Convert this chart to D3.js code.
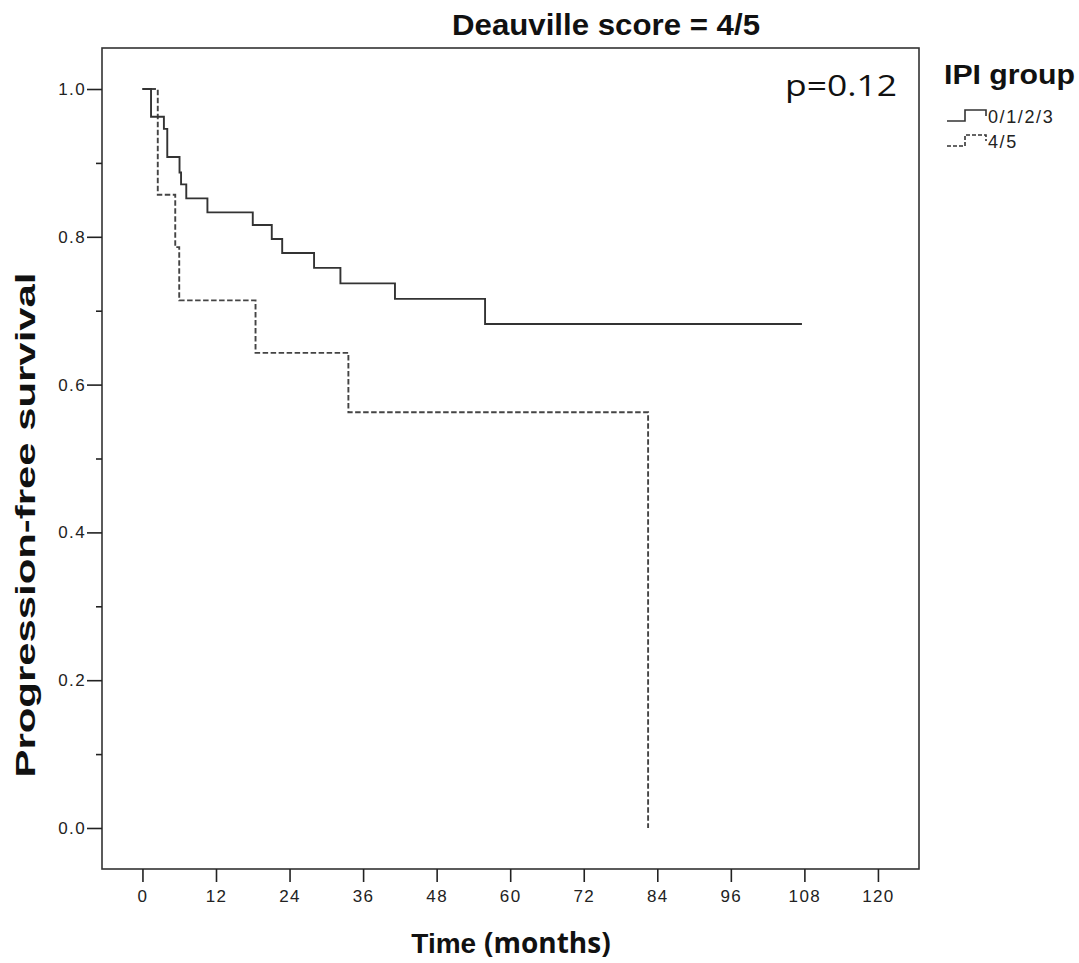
<!DOCTYPE html>
<html>
<head>
<meta charset="utf-8">
<script src="https://cdn.jsdelivr.net/npm/d3@7"></script>
<style>
  html, body { margin: 0; padding: 0; background: #fff; }
  svg { display: block; }
</style>
</head>
<body>
<svg id="chart" width="1079" height="963"></svg>
<script>
// ---- Data ----
const groupNames = ["0/1/2/3", "4/5"];
// Group 0/1/2/3 (solid): step times (months) and survival after each step
const timesLow = [0, 1.4, 3.5, 4.05, 6.05, 6.3, 7.15, 10.6, 18.0, 21.1, 22.8, 28.0, 32.3, 41.2, 55.9, 107.6];
const survLow  = [1.0, 0.9625, 0.946, 0.908, 0.887, 0.871, 0.852, 0.833, 0.816, 0.797, 0.778, 0.758, 0.737, 0.716, 0.682, 0.682];
// Group 4/5 (dashed)
const timesHigh = [0, 2.5, 5.35, 6.0, 18.45, 33.6, 82.5];
const survHigh  = [1.0, 0.857, 0.786, 0.714, 0.643, 0.5625, 0.0];

const xTicks = [0, 12, 24, 36, 48, 60, 72, 84, 96, 108, 120];
const yTicksMajor = [0.0, 0.2, 0.4, 0.6, 0.8, 1.0];
const yTicksMinor = [0.1, 0.3, 0.5, 0.7, 0.9];

const titleText = "Deauville score = 4/5";
const pText = "p=0.12";
const yLabel = "Progression-free survival";
const xLabelA = "Time ";
const xLabelB = "(months)";
const legendTitle = "IPI group";

// ---- Layout ----
const svg = d3.select("#chart");
const L = 102, R = 919, T = 48, B = 869;

const x = d3.scaleLinear().domain([-6.6, 126.7]).range([L, R]);
const y = d3.scaleLinear().domain([-0.0555, 1.0555]).range([B, T]);

const ink = "#222";
const tickFont = "'Liberation Sans', Arial, sans-serif";

// frame
svg.append("rect")
  .attr("x", L).attr("y", T).attr("width", R - L).attr("height", B - T)
  .attr("fill", "none").attr("stroke", "#333").attr("stroke-width", 1.6);

// y axis
const yAxis = d3.axisLeft(y).tickValues(yTicksMajor).tickFormat(d3.format(".1f"))
  .tickSize(15).tickPadding(1);
const gy = svg.append("g").attr("transform", `translate(${L},0)`).call(yAxis);
gy.select(".domain").remove();
gy.selectAll(".tick line").attr("stroke", ink).attr("stroke-width", 1.6);
gy.selectAll(".tick text").attr("fill", ink).style("font-family", tickFont).style("font-size", "17px").style("letter-spacing", "1.4px");
const gyMinor = svg.append("g").attr("transform", `translate(${L},0)`)
  .call(d3.axisLeft(y).tickValues(yTicksMinor).tickSize(6).tickFormat(""));
gyMinor.select(".domain").remove();
gyMinor.selectAll(".tick line").attr("stroke", ink).attr("stroke-width", 1.6);

// x axis
const xAxis = d3.axisBottom(x).tickValues(xTicks).tickFormat(d3.format("d"))
  .tickSize(13).tickPadding(8);
const gx = svg.append("g").attr("transform", `translate(0,${B})`).call(xAxis);
gx.select(".domain").remove();
gx.selectAll(".tick line").attr("stroke", ink).attr("stroke-width", 1.6);
gx.selectAll(".tick text").attr("fill", ink).style("font-family", tickFont).style("font-size", "17px").style("letter-spacing", "1.4px");

// curves
const line = d3.line().x(d => x(d[0])).y(d => y(d[1])).curve(d3.curveStepAfter);
const lowData = timesLow.map((t, i) => [t, survLow[i]]);
const highData = timesHigh.map((t, i) => [t, survHigh[i]]);

svg.append("path").datum(highData).attr("d", line)
  .attr("fill", "none").attr("stroke", "#444").attr("stroke-width", 1.9)
  .attr("stroke-dasharray", "5.5,2.5");
svg.append("path").datum(lowData).attr("d", line)
  .attr("fill", "none").attr("stroke", "#333").attr("stroke-width", 1.9);

// title
svg.append("text").attr("x", 606).attr("y", 35).attr("text-anchor", "middle")
  .attr("textLength", 308).attr("lengthAdjust", "spacingAndGlyphs")
  .style("font-family", tickFont).style("font-weight", "bold").style("font-size", "29px")
  .attr("fill", "#111").text(titleText);

// p value
svg.append("text").attr("x", 785).attr("y", 96)
  .attr("textLength", 112).attr("lengthAdjust", "spacingAndGlyphs")
  .style("font-family", "'Open Sans', 'Noto Sans', sans-serif").style("font-size", "30px")
  .attr("fill", "#111").text(pText);

// y label
svg.append("text").attr("transform", `translate(35,525) rotate(-90)`).attr("text-anchor", "middle")
  .attr("textLength", 505).attr("lengthAdjust", "spacingAndGlyphs")
  .style("font-family", tickFont).style("font-weight", "bold").style("font-size", "28px")
  .attr("fill", "#111").text(yLabel);

// x label
const xl = svg.append("text").attr("x", 511).attr("y", 953).attr("text-anchor", "middle")
  .attr("fill", "#111").style("font-size", "28px").style("font-weight", "bold");
xl.append("tspan").style("font-family", tickFont).text(xLabelA);
xl.append("tspan").style("font-family", "'Open Sans', 'Noto Sans', sans-serif").text(xLabelB);

// legend
svg.append("text").attr("x", 944).attr("y", 84)
  .attr("textLength", 131).attr("lengthAdjust", "spacingAndGlyphs")
  .style("font-family", tickFont).style("font-weight", "bold").style("font-size", "27px")
  .attr("fill", "#111").text(legendTitle);

const legendRows = [
  { name: groupNames[0], dash: null, yy: 121 },
  { name: groupNames[1], dash: "4,2", yy: 146 }
];
legendRows.forEach(r => {
  const pts = [[947, r.yy], [965, r.yy], [965, r.yy - 11], [986, r.yy - 11], [986, r.yy - 5]];
  svg.append("path").attr("d", d3.line()(pts)).attr("fill", "none")
    .attr("stroke", "#333").attr("stroke-width", 1.6)
    .attr("stroke-dasharray", r.dash);
  svg.append("text").attr("x", 988).attr("y", r.yy + 2)
    .style("font-family", tickFont).style("font-size", "18px").style("letter-spacing", "1.6px")
    .attr("fill", ink).text(r.name);
});
</script>
</body>
</html>
